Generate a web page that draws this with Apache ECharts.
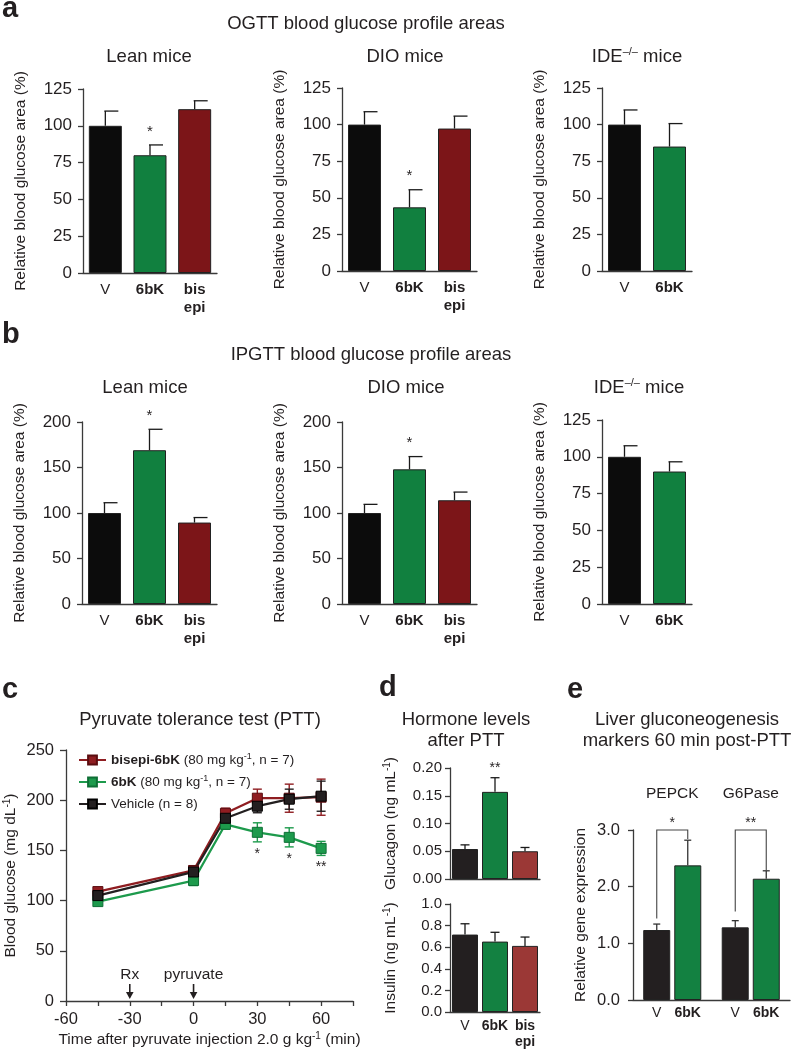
<!DOCTYPE html>
<html><head><meta charset="utf-8">
<script src="https://cdn.jsdelivr.net/npm/echarts@6/dist/echarts.min.js"></script>
<style>html,body{margin:0;padding:0;background:#fff}#c{width:793px;height:1050px}</style>
</head><body><div id="c"></div>
<script>
const FONT = '"Liberation Sans", Arial, Helvetica, sans-serif';
const TXT = '#231f20';
const AX = '#3a3a3a';

// ---------------- data ----------------
const cats3 = ['V', '6bK', 'bis\nepi'];
const cats2 = ['V', '6bK'];
// a: OGTT
const ogttLeanVals = [100, 80, 111.3];
const ogttLeanErr = [10, 7, 5.7];
const ogttLeanSig = ['', '*', ''];
const ogttDioVals = [100, 43.5, 97.3];
const ogttDioErr = [8.8, 12, 8.5];
const ogttDioSig = ['', '*', ''];
const ogttIdeVals = [100, 85];
const ogttIdeErr = [10, 15.7];
// b: IPGTT
const ipgttLeanVals = [100, 169, 89.5];
const ipgttLeanErr = [11.3, 23, 5.5];
const ipgttLeanSig = ['', '*', ''];
const ipgttDioVals = [100, 148, 114];
const ipgttDioErr = [9.5, 14, 9];
const ipgttDioSig = ['', '*', ''];
const ipgttIdeVals = [100, 90];
const ipgttIdeErr = [7.5, 6.6];
// c: PTT
const pttTimes = [-45, 0, 15, 30, 45, 60];
const pttBisepi = [109, 130, 187, 202, 202, 203];
const pttBisepiErr = [3, 4, 5, 9, 14, 18];
const ptt6bK = [99, 120, 176, 168, 163, 152];
const ptt6bKErr = [3, 5, 5, 9.5, 9.5, 7];
const pttVehicle = [105, 128.5, 182, 194, 201, 204];
const pttVehicleErr = [3, 4, 5, 6.5, 10, 15];
const pttSigTimes = [30, 45, 60];
const pttSigMarks = ['*', '*', '**'];
const pttEventTimes = [-30, 0];
const pttEventLabels = ['Rx', 'pyruvate'];
const pttXLabels = [-60, -30, 0, 30, 60];
// d: hormones
const hormoneCats = ['V', '6bK', 'bis\nepi'];
const glucagonVals = [0.054, 0.157, 0.050];
const glucagonErr = [0.0075, 0.0255, 0.0068];
const glucagonSig = ['', '**', ''];
const insulinVals = [0.717, 0.652, 0.612];
const insulinErr = [0.1, 0.086, 0.082];
// e: genes
const geneCats = ['PEPCK', 'G6Pase'];
const geneVVals = [1.235, 1.282];
const geneVErr = [0.105, 0.118];
const gene6bKVals = [2.376, 2.14];
const gene6bKErr = [0.444, 0.14];
const geneSig = ['*', '**'];
const geneBracketLeft = [1.44, 1.56];
const geneBracketRight = [2.84, 2.29];
const geneBracketTop = [3.0, 3.0];

// ---------------- colors ----------------
const abColors = ['#0c0c0c', '#11803f', '#7c1518'];
const deColors = ['#231f20', '#138141', '#9b3836'];
const pttColors = ['#8f1d21', '#1d9a4c', '#231f20'];
const pttBorders = ['#5a0d10', '#0e6e35', '#000000'];

// ---------------- builders ----------------
const grids = [], xAxes = [], yAxes = [], series = [], graphics = [];

function supRich(fs) {
  return { s: { fontSize: fs, lineHeight: fs, verticalAlign: 'top', fontFamily: FONT, color: TXT } };
}

function errRenderer(opt) {
  return function (params, api) {
    const i = api.value(0), v = api.value(1), e = api.value(2);
    const b = api.coord([i, v]), t = api.coord([i, v + e]);
    const x = b[0] + (opt.dx || 0);
    const st = { stroke: opt.color, lineWidth: opt.lw };
    const ch = [
      { type: 'line', shape: { x1: x, y1: b[1], x2: x, y2: t[1] }, style: st },
      { type: 'line', shape: { x1: x - opt.capL, y1: t[1], x2: x + opt.capR, y2: t[1] }, style: st }
    ];
    const s = opt.sigs && opt.sigs[params.dataIndex];
    if (s) ch.push({ type: 'text', style: { text: s, x: x, y: t[1] - opt.sigOff, align: 'center', verticalAlign: 'middle', fontSize: opt.sigFs, fontFamily: FONT, fill: TXT } });
    return { type: 'group', children: ch };
  };
}

function barPanel(p) {
  const gi = grids.length;
  grids.push({ left: p.left, top: p.top, width: p.width, height: p.height });
  xAxes.push({
    type: 'category', gridIndex: gi, data: p.cats,
    axisLine: { lineStyle: { color: AX, width: 1.3 } }, axisTick: { show: false },
    axisLabel: {
      interval: 0, hideOverlap: false,
      fontSize: p.catFs, fontWeight: 'bold', color: TXT, fontFamily: FONT, margin: p.catMargin, lineHeight: p.catLh,
      formatter: v => v === 'V' ? '{n|V}' : v,
      rich: { n: { fontWeight: 'normal', fontSize: p.catFs, fontFamily: FONT, color: TXT } }
    }
  });
  const xi = xAxes.length - 1;
  yAxes.push({
    type: 'value', gridIndex: gi, min: 0, max: p.max, interval: p.interval,
    axisLine: { show: true, onZero: false, lineStyle: { color: AX, width: 1.3 } },
    axisTick: { show: true, length: 5, lineStyle: { color: AX, width: 1.3 } },
    splitLine: { show: false },
    axisLabel: { fontSize: p.tickFs, color: TXT, fontFamily: FONT, margin: p.tickMargin, formatter: p.fmt || (v => String(v)) },
    name: p.yName, nameLocation: 'middle', nameGap: p.nameGap,
    nameTextStyle: { fontSize: 15.5, color: TXT, fontFamily: FONT, lineHeight: 18, rich: supRich(10) }
  });
  const yi = yAxes.length - 1;
  series.push({
    type: 'bar', xAxisIndex: xi, yAxisIndex: yi, barWidth: p.barWidth, silent: true,
    itemStyle: { borderColor: '#222', borderWidth: 1 },
    data: p.vals.map((v, i) => ({ value: v, itemStyle: { color: p.colors[i] } }))
  });
  series.push({
    type: 'custom', xAxisIndex: xi, yAxisIndex: yi, silent: true, z: 5, clip: false,
    encode: { x: 0, y: 1 },
    data: p.vals.map((v, i) => [i, v, p.errs[i]]),
    renderItem: errRenderer({ dx: 0, capL: p.capL, capR: p.capR, lw: 1.3, color: '#1a1a1a', sigs: p.sigs, sigFs: p.sigFs, sigOff: p.sigOff })
  });
}

const abCommon = { catFs: 15, catMargin: 8, catLh: 18, tickFs: 17, tickMargin: 11, barWidth: 33, nameGap: 53, capL: 1, capR: 13, sigFs: 15, sigOff: 13.5, yName: 'Relative blood glucose area (%)' };

// a
barPanel(Object.assign({}, abCommon, { left: 83, top: 89, width: 134, height: 184, cats: cats3, vals: ogttLeanVals, errs: ogttLeanErr, sigs: ogttLeanSig, colors: abColors, max: 125, interval: 25 }));
barPanel(Object.assign({}, abCommon, { left: 342, top: 88, width: 135, height: 183, cats: cats3, vals: ogttDioVals, errs: ogttDioErr, sigs: ogttDioSig, colors: abColors, max: 125, interval: 25 }));
barPanel(Object.assign({}, abCommon, { left: 602, top: 88, width: 90, height: 183, cats: cats2, vals: ogttIdeVals, errs: ogttIdeErr, sigs: null, colors: abColors, max: 125, interval: 25 }));
// b
barPanel(Object.assign({}, abCommon, { left: 82, top: 422, width: 135, height: 182, cats: cats3, vals: ipgttLeanVals, errs: ipgttLeanErr, sigs: ipgttLeanSig, colors: abColors, max: 200, interval: 50 }));
barPanel(Object.assign({}, abCommon, { left: 342, top: 422, width: 135, height: 182, cats: cats3, vals: ipgttDioVals, errs: ipgttDioErr, sigs: ipgttDioSig, colors: abColors, max: 200, interval: 50 }));
barPanel(Object.assign({}, abCommon, { left: 602, top: 420, width: 90, height: 184, cats: cats2, vals: ipgttIdeVals, errs: ipgttIdeErr, sigs: null, colors: abColors, max: 125, interval: 25 }));

// d
const dCommon = { catFs: 14, catMargin: 6, catLh: 16, tickFs: 15, tickMargin: 8, barWidth: 26, nameGap: 50, capL: 4.5, capR: 4.5, sigFs: 14, sigOff: 10, left: 450, width: 90, colors: deColors };
barPanel(Object.assign({}, dCommon, { top: 768, height: 111, cats: hormoneCats, vals: glucagonVals, errs: glucagonErr, sigs: glucagonSig, max: 0.2, interval: 0.05, fmt: v => v.toFixed(2), yName: 'Glucagon (ng mL{s|-1})' }));
xAxes[xAxes.length - 1].axisLabel.show = false;
barPanel(Object.assign({}, dCommon, { top: 904, height: 112, cats: hormoneCats, vals: insulinVals, errs: insulinErr, sigs: null, max: 1.0, interval: 0.2, fmt: v => v.toFixed(1), yName: 'Insulin (ng mL{s|-1})' }));

// c : PTT line chart
(function () {
  const gi = grids.length;
  grids.push({ left: 66, top: 750, width: 287, height: 251 });
  xAxes.push({
    type: 'value', gridIndex: gi, min: -60, max: 75, interval: 15,
    axisLine: { onZero: false, lineStyle: { color: AX, width: 1.3 } },
    axisTick: { show: true, length: 5, lineStyle: { color: AX, width: 1.3 } },
    splitLine: { show: false },
    axisLabel: { fontSize: 16.5, color: TXT, fontFamily: FONT, margin: 10, showMaxLabel: true, formatter: v => pttXLabels.indexOf(v) >= 0 ? String(v) : '' },
    name: 'Time after pyruvate injection 2.0 g kg{s|-1} (min)', nameLocation: 'middle', nameGap: 30,
    nameTextStyle: { fontSize: 15.5, color: TXT, fontFamily: FONT, lineHeight: 18, rich: supRich(10) }
  });
  const xi = xAxes.length - 1;
  yAxes.push({
    type: 'value', gridIndex: gi, min: 0, max: 250, interval: 50,
    axisLine: { show: true, onZero: false, lineStyle: { color: AX, width: 1.3 } },
    axisTick: { show: true, length: 6, lineStyle: { color: AX, width: 1.3 } },
    splitLine: { show: false },
    axisLabel: { fontSize: 16.5, color: TXT, fontFamily: FONT, margin: 12 },
    name: 'Blood glucose (mg dL{s|-1})', nameLocation: 'middle', nameGap: 46,
    nameTextStyle: { fontSize: 15.5, color: TXT, fontFamily: FONT, lineHeight: 18, rich: supRich(10) }
  });
  const yi = yAxes.length - 1;
  const sets = [
    { name: 'bisepi-6bK', vals: pttBisepi, errs: pttBisepiErr },
    { name: '6bK', vals: ptt6bK, errs: ptt6bKErr },
    { name: 'Vehicle', vals: pttVehicle, errs: pttVehicleErr }
  ];
  sets.forEach((s, k) => {
    series.push({
      type: 'custom', name: s.name + ' err', xAxisIndex: xi, yAxisIndex: yi, silent: true, z: 3,
      encode: { x: 0, y: 1 },
      data: pttTimes.map((t, i) => [t, s.vals[i], s.errs[i]]),
      renderItem: function (params, api) {
        const t = api.value(0), v = api.value(1), e = api.value(2);
        const hi = api.coord([t, v + e]), lo = api.coord([t, v - e]);
        const x = hi[0];
        const st = { stroke: pttColors[k], lineWidth: 1.4 };
        return { type: 'group', children: [
          { type: 'line', shape: { x1: x, y1: hi[1], x2: x, y2: lo[1] }, style: st },
          { type: 'line', shape: { x1: x - 4.5, y1: hi[1], x2: x + 4.5, y2: hi[1] }, style: st },
          { type: 'line', shape: { x1: x - 4.5, y1: lo[1], x2: x + 4.5, y2: lo[1] }, style: st }
        ] };
      }
    });
  });
  sets.forEach((s, k) => {
    series.push({
      type: 'line', name: s.name, xAxisIndex: xi, yAxisIndex: yi, z: 4,
      data: pttTimes.map((t, i) => [t, s.vals[i]]),
      symbol: 'rect', symbolSize: 10, showAllSymbol: true,
      lineStyle: { color: pttColors[k], width: 2.3 },
      itemStyle: { color: pttColors[k], borderColor: pttBorders[k], borderWidth: 1 }
    });
  });
  series.push({
    type: 'custom', xAxisIndex: xi, yAxisIndex: yi, silent: true, z: 5, encode: { x: 0, y: 1 },
    data: pttSigTimes.map(t => { const i = pttTimes.indexOf(t); return [t, ptt6bK[i] - ptt6bKErr[i]]; }),
    renderItem: function (params, api) {
      const p = api.coord([api.value(0), api.value(1)]);
      return { type: 'text', style: { text: pttSigMarks[params.dataIndex], x: p[0], y: p[1] + 12, align: 'center', verticalAlign: 'middle', fontSize: 14, fontFamily: FONT, fill: TXT } };
    }
  });
  series.push({
    type: 'custom', xAxisIndex: xi, yAxisIndex: yi, silent: true, z: 5, encode: { x: 0, y: 1 },
    data: pttEventTimes.map(t => [t, 0]),
    renderItem: function (params, api) {
      const p = api.coord([api.value(0), 0]);
      const x = p[0], yb = p[1];
      return { type: 'group', children: [
        { type: 'text', style: { text: pttEventLabels[params.dataIndex], x: x, y: yb - 26, align: 'center', verticalAlign: 'middle', fontSize: 15.5, fontFamily: FONT, fill: TXT } },
        { type: 'line', shape: { x1: x, y1: yb - 17, x2: x, y2: yb - 6 }, style: { stroke: TXT, lineWidth: 1.6 } },
        { type: 'polygon', shape: { points: [[x - 3.8, yb - 9], [x + 3.8, yb - 9], [x, yb - 2]] }, style: { fill: TXT } }
      ] };
    }
  });
})();

// e : gene expression
(function () {
  const gi = grids.length;
  grids.push({ left: 633, top: 830, width: 157, height: 170 });
  const lab = (w, bold) => ({ width: w, align: 'center', fontSize: 14, fontWeight: bold ? 'bold' : 'normal', fontFamily: FONT, color: TXT });
  xAxes.push({
    type: 'category', gridIndex: gi, data: geneCats,
    axisLine: { lineStyle: { color: AX, width: 1.3 } }, axisTick: { show: false },
    axisLabel: { interval: 0, margin: 6, fontFamily: FONT, color: TXT, formatter: () => '{v|V}{k|6bK}', rich: { v: lab(31, false), k: lab(31, true) } }
  });
  const xi = xAxes.length - 1;
  xAxes.push({
    type: 'category', gridIndex: gi, data: geneCats, position: 'top', offset: 22,
    axisLine: { show: false }, axisTick: { show: false },
    axisLabel: { interval: 0, margin: 6, fontSize: 15.5, color: TXT, fontFamily: FONT }
  });
  yAxes.push({
    type: 'value', gridIndex: gi, min: 0, max: 3, interval: 1,
    axisLine: { show: true, onZero: false, lineStyle: { color: AX, width: 1.3 } },
    axisTick: { show: true, length: 5, lineStyle: { color: AX, width: 1.3 } },
    splitLine: { show: false },
    axisLabel: { fontSize: 16.5, color: TXT, fontFamily: FONT, margin: 13, formatter: v => v.toFixed(1) },
    name: 'Relative gene expression', nameLocation: 'middle', nameGap: 44,
    nameTextStyle: { fontSize: 15.5, color: TXT, fontFamily: FONT }
  });
  const yi = yAxes.length - 1;
  const groups = [
    { name: 'V', vals: geneVVals, errs: geneVErr, color: deColors[0], dx: -15.5 },
    { name: '6bK', vals: gene6bKVals, errs: gene6bKErr, color: deColors[1], dx: 15.5 }
  ];
  groups.forEach(g => {
    series.push({
      type: 'bar', name: 'gene ' + g.name, xAxisIndex: xi, yAxisIndex: yi, barWidth: 27, barGap: '15%', silent: true,
      itemStyle: { color: g.color, borderColor: '#222', borderWidth: 1 },
      data: g.vals
    });
  });
  groups.forEach(g => {
    series.push({
      type: 'custom', xAxisIndex: xi, yAxisIndex: yi, silent: true, z: 5, encode: { x: 0, y: 1 },
      data: g.vals.map((v, i) => [i, v, g.errs[i]]),
      renderItem: errRenderer({ dx: g.dx, capL: 3.5, capR: 3.5, lw: 1.3, color: '#333', sigs: null })
    });
  });
  series.push({
    type: 'custom', xAxisIndex: xi, yAxisIndex: yi, silent: true, z: 5, clip: false, encode: { x: 0, y: 1 },
    data: geneCats.map((c, i) => [i, geneBracketTop[i], geneBracketLeft[i], geneBracketRight[i]]),
    renderItem: function (params, api) {
      const i = api.value(0);
      const pt = api.coord([i, api.value(1)]), pl = api.coord([i, api.value(2)]), pr = api.coord([i, api.value(3)]);
      const xL = pt[0] - 15.5, xR = pt[0] + 15.5;
      return { type: 'group', children: [
        { type: 'polyline', shape: { points: [[xL, pl[1]], [xL, pt[1]], [xR, pt[1]], [xR, pr[1]]] }, style: { stroke: '#444', lineWidth: 1.1, fill: null } },
        { type: 'text', style: { text: geneSig[params.dataIndex], x: (xL + xR) / 2, y: pt[1] - 7, align: 'center', verticalAlign: 'middle', fontSize: 14, fontFamily: FONT, fill: TXT } }
      ] };
    }
  });
})();

// ---------------- titles / letters ----------------
function txt(x, y, text, fs, opts) {
  opts = opts || {};
  graphics.push({
    type: 'text', x: x, y: y, silent: true,
    style: { text: text, fontSize: fs, fontWeight: opts.weight || 'normal', fontFamily: FONT, fill: TXT,
      align: opts.align || 'center', verticalAlign: 'middle', lineHeight: opts.lh, rich: opts.rich }
  });
}
const supT = { s: { fontSize: 11, lineHeight: 11, verticalAlign: 'top', fontFamily: FONT, fill: TXT } };
txt(2, 9, 'a', 29, { weight: 'bold', align: 'left' });
txt(2, 335, 'b', 29, { weight: 'bold', align: 'left' });
txt(2, 690, 'c', 29, { weight: 'bold', align: 'left' });
txt(379, 688, 'd', 29, { weight: 'bold', align: 'left' });
txt(567, 690, 'e', 29, { weight: 'bold', align: 'left' });
txt(366, 24, 'OGTT blood glucose profile areas', 18.5);
txt(371, 355, 'IPGTT blood glucose profile areas', 18.5);
txt(149, 57, 'Lean mice', 18.5);
txt(405, 57, 'DIO mice', 18.5);
txt(637, 57, 'IDE{s|–/–} mice', 18.5, { lh: 22, rich: supT });
txt(145, 388, 'Lean mice', 18.5);
txt(406, 388, 'DIO mice', 18.5);
txt(639, 388, 'IDE{s|–/–} mice', 18.5, { lh: 22, rich: supT });
txt(200, 720, 'Pyruvate tolerance test (PTT)', 18.5);
txt(466, 730, 'Hormone levels\nafter PTT', 18.5, { lh: 21 });
txt(687, 730, 'Liver gluconeogenesis\nmarkers 60 min post-PTT', 18.5, { lh: 21 });

const legendText = {
  'bisepi-6bK': '{b|bisepi-6bK} (80 mg kg{s|-1}, n = 7)',
  '6bK': '{b|6bK} (80 mg kg{s|-1}, n = 7)',
  'Vehicle': 'Vehicle (n = 8)'
};

const option = {
  animation: false,
  backgroundColor: '#fff',
  textStyle: { fontFamily: FONT },
  grid: grids,
  xAxis: xAxes,
  yAxis: yAxes,
  legend: {
    data: ['bisepi-6bK', '6bK', 'Vehicle'], orient: 'vertical', left: 73, top: 747,
    itemWidth: 27, itemHeight: 11, itemGap: 6,
    formatter: n => legendText[n],
    textStyle: { fontSize: 13.5, color: TXT, fontFamily: FONT, lineHeight: 16,
      rich: { b: { fontWeight: 'bold', fontSize: 13.5, fontFamily: FONT, color: TXT }, s: { fontSize: 9, lineHeight: 9, verticalAlign: 'top', fontFamily: FONT, color: TXT } } }
  },
  series: series,
  graphic: graphics
};
const chart = echarts.init(document.getElementById('c'));
chart.setOption(option);
</script>
</body></html>
